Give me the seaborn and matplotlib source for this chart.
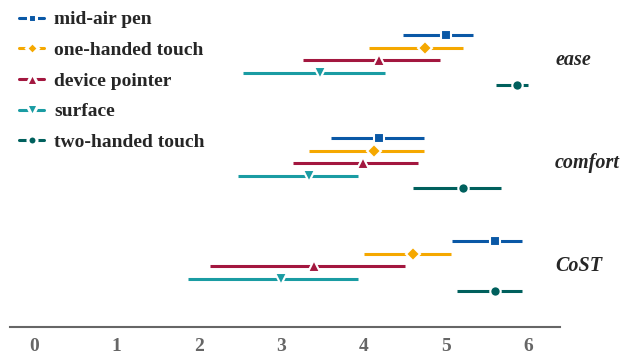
import matplotlib
matplotlib.use('Agg')
import matplotlib.pyplot as plt
import seaborn as sns
from matplotlib.lines import Line2D

# data
groups = ['ease', 'comfort', 'CoST']
devices = ['mid-air pen', 'one-handed touch', 'device pointer', 'surface', 'two-handed touch']
colors = ['#0a58a6', '#f5a800', '#a3173f', '#1a9ca3', '#00605d']
markers = ['s', 'D', '^', 'v', 'o']
msizes = [7, 7, 9, 9, 7.5]

# per device: values for ease, comfort, CoST
mid = {
    'mid-air pen':      [5.00, 4.19, 5.59],
    'one-handed touch': [4.74, 4.13, 4.60],
    'device pointer':   [4.19, 3.99, 3.40],
    'surface':          [3.47, 3.33, 3.00],
    'two-handed touch': [5.86, 5.20, 5.59],
}
lo = {
    'mid-air pen':      [4.47, 3.60, 5.07],
    'one-handed touch': [4.06, 3.34, 4.00],
    'device pointer':   [3.26, 3.14, 2.13],
    'surface':          [2.53, 2.47, 1.87],
    'two-handed touch': [5.60, 4.60, 5.13],
}
hi = {
    'mid-air pen':      [5.32, 4.73, 5.92],
    'one-handed touch': [5.20, 4.73, 5.06],
    'device pointer':   [4.92, 4.66, 4.50],
    'surface':          [4.26, 3.93, 3.93],
    'two-handed touch': [5.99, 5.66, 5.92],
}

sns.set_style('white')
plt.rcParams['font.family'] = ['Liberation Serif', 'DejaVu Serif']
plt.rcParams['font.weight'] = 'bold'

fig = plt.figure(figsize=(6.21, 3.57), dpi=100)
ax = fig.add_axes([10 / 621, 1 - 327 / 357, 550 / 621, 322 / 357])

gap = 8.25
handles = []
for i, d in enumerate(devices):
    ys = [g * gap + i for g in range(len(groups))]
    xerr = [[m - l for m, l in zip(mid[d], lo[d])], [h - m for m, h in zip(mid[d], hi[d])]]
    ax.errorbar(mid[d], ys, xerr=xerr, fmt=markers[i], color=colors[i], ms=msizes[i],
                mec='white', mew=1.5, elinewidth=2.2, capsize=0, zorder=3)
    handles.append(Line2D([], [], color=colors[i], lw=2.2, marker=markers[i],
                          ms=msizes[i] - 1, mec='white', mew=2.2))

for g, name in enumerate(groups):
    ax.text(6.32, g * gap + 2, name, fontsize=14.5, fontweight='bold', fontstyle='italic',
            va='center', ha='left', clip_on=False)

ax.set_xlim(-0.29, 6.38)
ax.set_ylim(23.36, -2.4)
ax.set_xticks(range(7))
ax.set_yticks([])
ax.tick_params(axis='x', colors='#666666', labelsize=14, length=5, width=1.2, direction='out', pad=3)
for lab in ax.get_xticklabels():
    lab.set_fontweight('bold')
sns.despine(ax=ax, left=True)
ax.spines['bottom'].set_color('#666666')
ax.spines['bottom'].set_linewidth(1.5)

leg = ax.legend(handles, devices, loc='upper left', bbox_to_anchor=(0.006, 1.0), frameon=False,
                prop={'family': 'Liberation Serif', 'weight': 'bold', 'size': 14},
                handlelength=1.3, handletextpad=0.5, labelspacing=0.67, borderaxespad=0.0,
                borderpad=0.3)

fig.savefig('out.png', dpi=100)
